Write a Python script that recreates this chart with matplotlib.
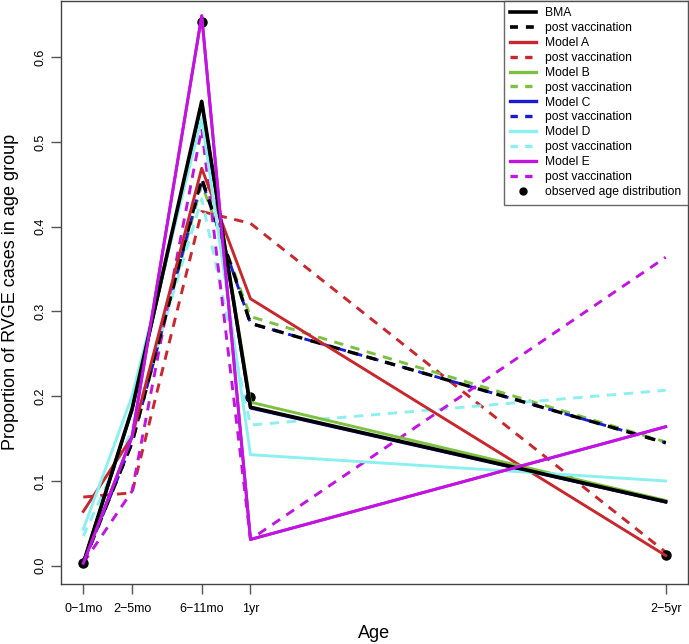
import matplotlib
matplotlib.use("Agg")
import matplotlib.pyplot as plt
from matplotlib.lines import Line2D

plt.rcParams['font.family'] = ['Liberation Sans', 'DejaVu Sans']

age_labels = ["0\u22121mo", "2\u22125mo", "6\u221211mo", "1yr", "2\u22125yr"]
age_pos = [0, 3.5, 8.5, 12, 41.8]

observed = [0.0035, None, 0.642, 0.199, 0.0126]

bma      = [0.003, 0.185, 0.548, 0.187, 0.0755]
bma_post = [0.003, 0.145, 0.457, 0.286, 0.145]
a        = [0.064, 0.152, 0.469, 0.315, 0.012]
a_post   = [0.081, 0.086, 0.418, 0.404, 0.016]
b        = [0.003, 0.183, 0.545, 0.193, 0.077]
b_post   = [0.003, 0.146, 0.450, 0.294, 0.146]
c        = [0.003, 0.184, 0.546, 0.186, 0.075]
c_post   = [0.003, 0.145, 0.455, 0.286, 0.145]
d        = [0.043, 0.200, 0.528, 0.131, 0.100]
d_post   = [0.035, 0.160, 0.433, 0.166, 0.207]
e        = [0.003, 0.152, 0.649, 0.031, 0.164]
e_post   = [0.003, 0.088, 0.516, 0.031, 0.364]

series = [
    ("Model A", a, a_post, "#c8282d"),
    ("Model B", b, b_post, "#7cc142"),
    ("Model C", c, c_post, "#1a1ad0"),
    ("Model D", d, d_post, "#8cf0f0"),
    ("Model E", e, e_post, "#c214e0"),
]

W, H = 689, 644
fig = plt.figure(figsize=(W/100, H/100), dpi=100)
ax = fig.add_axes([60.7/W, 1-584/H, (688-60.7)/W, (584-0.5)/H])

lw = 2.1
dash = (3.2, 2.6)

for name, sol, post, col in series:
    ax.plot(age_pos, post, color=col, lw=lw, linestyle=(0, dash), zorder=2)
for name, sol, post, col in series:
    ax.plot(age_pos, sol, color=col, lw=lw, zorder=3)

ax.plot(age_pos, bma_post, color="black", lw=2.4, linestyle=(0, dash), zorder=2.5)
ax.plot(age_pos, bma, color="black", lw=2.6, zorder=3.5)

ox = [p for p, v in zip(age_pos, observed) if v is not None]
oy = [v for v in observed if v is not None]
ax.plot(ox, oy, 'o', color='black', markersize=6.5, zorder=2.8)

# Model E solid drawn above BMA as in the reference
ax.plot(age_pos, e, color="#c214e0", lw=lw, zorder=3.6)

ax.set_xlim(-1.62, 43.4)
ax.set_ylim(-0.0216, 0.667)
ax.set_xticks(age_pos)
ax.set_xticklabels(age_labels, fontsize=9)
yt = [0.0, 0.1, 0.2, 0.3, 0.4, 0.5, 0.6]
ax.set_yticks(yt)
ax.set_yticklabels(["%.1f" % v for v in yt], fontsize=9, rotation=90, va='center')
ax.tick_params(axis='both', length=7, width=1, color='#555555')
ax.tick_params(axis='x', pad=7)
ax.tick_params(axis='y', pad=3)
for s in ax.spines.values():
    s.set_color('#444444')
    s.set_linewidth(1.0)

fig.text(374/W, 1-633/H, "Age", fontsize=13, ha='center', va='center')
fig.text(11/W, 1-292/H, "Proportion of RVGE cases in age group", fontsize=13,
         ha='center', va='center', rotation=90)

handles = [Line2D([], [], color='black', lw=2.6),
           Line2D([], [], color='black', lw=2.6, linestyle=(0, (2.2, 2.2)))]
labels = ["BMA", "post vaccination"]
for name, sol, post, col in series:
    handles.append(Line2D([], [], color=col, lw=2.4))
    handles.append(Line2D([], [], color=col, lw=2.4, linestyle=(0, (2.2, 2.2))))
    labels += [name, "post vaccination"]
handles.append(Line2D([], [], color='black', marker='o', linestyle='none', markersize=5))
labels.append("observed age distribution")

leg = ax.legend(handles, labels, loc='upper right', fontsize=8.7, frameon=True,
                fancybox=False, borderaxespad=0, handlelength=2.1,
                handletextpad=0.8, labelspacing=0.24, borderpad=0.55)
leg.get_frame().set_edgecolor('#444444')
leg.get_frame().set_linewidth(1.0)
leg.set_zorder(10)

fig.savefig("out.png", dpi=100)
